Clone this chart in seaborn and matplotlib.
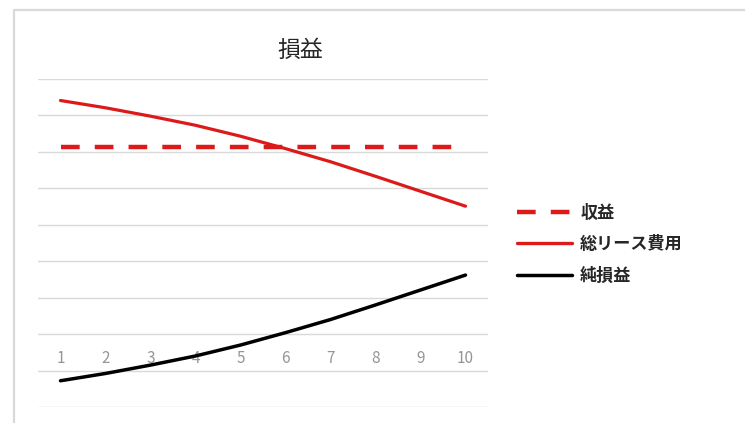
import seaborn as sns
import matplotlib.pyplot as plt
from matplotlib.lines import Line2D

# -----------------------------
# data
# -----------------------------
years = [1, 2, 3, 4, 5, 6, 7, 8, 9, 10]
revenue = [5.13] * 10
lease_cost = [6.41, 6.21, 5.98, 5.73, 5.43, 5.09, 4.73, 4.33, 3.92, 3.51]
net_profit = [-1.28, -1.08, -0.85, -0.60, -0.30, 0.04, 0.40, 0.80, 1.21, 1.62]
labels = ["収益", "総リース費用", "純損益"]

red = "#dc1a1a"
grid_col = "#d9d9d9"
dash = (0, (4.2, 3.4))

sns.set_theme(style="white")
plt.rcParams['font.family'] = ['Noto Sans CJK JP', 'DejaVu Sans']

fig = plt.figure(figsize=(7.45, 4.23), dpi=100)
ax = fig.add_axes([38 / 745, 16 / 423, 450 / 745, 328 / 423])

sns.lineplot(x=years, y=revenue, ax=ax, color=red, linewidth=3.2,
             linestyle=dash, solid_capstyle="butt")
sns.lineplot(x=years, y=lease_cost, ax=ax, color=red, linewidth=2.3)
sns.lineplot(x=years, y=net_profit, ax=ax, color="black", linewidth=2.5)

ax.set_xlim(0.5, 10.5)
ax.set_ylim(-2, 7)
ax.set_yticks(range(-2, 8))
ax.yaxis.grid(True, color=grid_col, linewidth=1)
ax.set_yticklabels([])
ax.tick_params(axis="y", length=0)
ax.set_xticks(years)
ax.set_xticklabels([str(y) for y in years])
ax.tick_params(axis="x", length=0, pad=11.5, labelsize=11, labelcolor="#959595")
for s in ["left", "right", "top"]:
    ax.spines[s].set_visible(False)
ax.spines["bottom"].set_position(("data", 0))
ax.spines["bottom"].set_color("none")
ax.set_xlabel("")
ax.set_ylabel("")

# title
fig.text(300 / 745, 1 - 50 / 423, "損益", ha="center", va="center", fontsize=16.5)

# legend
handles = [
    Line2D([], [], color=red, linewidth=3.2, linestyle=dash),
    Line2D([], [], color=red, linewidth=2.4),
    Line2D([], [], color="black", linewidth=2.5),
]
fig.legend(handles, labels, loc="upper left", bbox_to_anchor=(517 / 745, 1 - 204 / 423),
           frameon=False, prop={"size": 12.3, "weight": "bold"}, handlelength=3.2,
           handletextpad=0.5, labelspacing=0.78, borderpad=0, borderaxespad=0)

# chart border (top and left edges visible)
fig.add_artist(Line2D([14 / 745, 14 / 745], [0, 1 - 10 / 423], transform=fig.transFigure,
                      color=grid_col, linewidth=1.6))
fig.add_artist(Line2D([14 / 745, 1], [1 - 10 / 423, 1 - 10 / 423], transform=fig.transFigure,
                      color=grid_col, linewidth=1.6))

fig.savefig("out.png", dpi=100, facecolor="white")
